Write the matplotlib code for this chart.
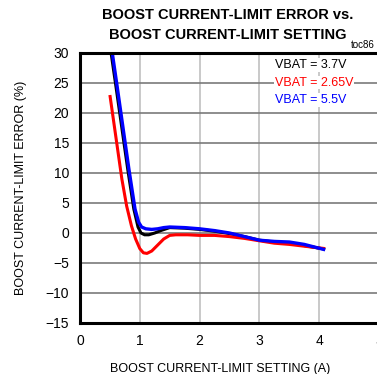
import matplotlib
matplotlib.use("Agg")
import matplotlib.pyplot as plt

plt.rcParams["font.family"] = ["Liberation Sans", "DejaVu Sans"]

# boost current-limit error vs setting, three battery voltages
x_37 = [0.52, 0.60, 0.70, 0.80, 0.90, 0.97, 1.02, 1.08, 1.15, 1.25, 1.35, 1.50, 1.75, 2.00, 2.25, 2.50, 2.75, 3.00, 3.25, 3.50, 3.75, 4.10]
y_37 = [30.0, 24.5, 17.5, 10.5, 4.0, 1.0, 0.0, -0.3, -0.3, 0.0, 0.4, 0.9, 0.8, 0.6, 0.3, -0.1, -0.6, -1.2, -1.5, -1.7, -2.1, -2.7]

x_265 = [0.50, 0.60, 0.70, 0.78, 0.86, 0.93, 1.00, 1.06, 1.12, 1.20, 1.30, 1.40, 1.50, 1.60, 1.80, 2.00, 2.25, 2.50, 2.75, 3.00, 3.25, 3.50, 3.75, 4.10]
y_265 = [23.0, 16.0, 9.0, 4.5, 1.2, -1.0, -2.6, -3.3, -3.4, -3.0, -2.0, -1.0, -0.4, -0.3, -0.3, -0.4, -0.4, -0.6, -0.9, -1.3, -1.7, -1.9, -2.2, -2.6]

x_55 = [0.54, 0.62, 0.72, 0.82, 0.92, 0.98, 1.03, 1.10, 1.20, 1.30, 1.40, 1.50, 1.75, 2.00, 2.25, 2.50, 2.75, 3.00, 3.25, 3.50, 3.75, 4.10]
y_55 = [30.0, 24.5, 17.5, 10.5, 4.0, 1.8, 1.0, 0.7, 0.6, 0.7, 0.9, 1.0, 0.9, 0.7, 0.4, 0.0, -0.6, -1.2, -1.4, -1.5, -1.9, -2.8]

legend_labels = ["VBAT = 3.7V", "VBAT = 2.65V", "VBAT = 5.5V"]
legend_colors = ["black", "#ff0000", "#0000ff"]

fig = plt.figure(figsize=(3.77, 3.74), dpi=100)
ax = fig.add_axes([80 / 377, 51 / 374, 299 / 377, 270 / 374])

ax.plot(x_37, y_37, color="black", lw=2.2, solid_capstyle="butt")
ax.plot(x_265, y_265, color="#ff0000", lw=2.2, solid_capstyle="butt")
ax.plot(x_55, y_55, color="#0000ff", lw=2.4, solid_capstyle="butt")

ax.set_xlim(0, 5)
ax.set_ylim(-15, 30)
ax.set_xticks(range(0, 6))
ax.set_yticks(range(-15, 31, 5))
ax.xaxis.grid(True, color="#c0c0c0", lw=1.2)
ax.yaxis.grid(True, color="#7a7a7a", lw=1.2)
ax.set_axisbelow(True)
ax.tick_params(length=0, labelsize=10, pad=8)
for side in ("left", "bottom", "top"):
    ax.spines[side].set_linewidth(2.2)
ax.spines["right"].set_visible(False)

ax.set_xlabel("BOOST CURRENT-LIMIT SETTING (A)", fontsize=9, labelpad=11, x=0.47)
ax.set_ylabel("BOOST CURRENT-LIMIT ERROR (%)", fontsize=9, labelpad=13)

for i, (lab, col) in enumerate(zip(legend_labels, legend_colors)):
    fig.text(275 / 377, 1 - (65 + 17.5 * i) / 374, lab, color=col,
             fontsize=9, va="center", ha="left",
             bbox=dict(facecolor="white", edgecolor="none", pad=0.5))

fig.text(228 / 377, 1 - 15 / 374, "BOOST CURRENT-LIMIT ERROR vs.",
         fontsize=10.5, fontweight="bold", ha="center", va="center")
fig.text(228 / 377, 1 - 35 / 374, "BOOST CURRENT-LIMIT SETTING",
         fontsize=10.5, fontweight="bold", ha="center", va="center")
fig.text(375 / 377, 1 - 45 / 374, "toc86", fontsize=7, ha="right", va="center")

fig.savefig("out.png", dpi=100)
